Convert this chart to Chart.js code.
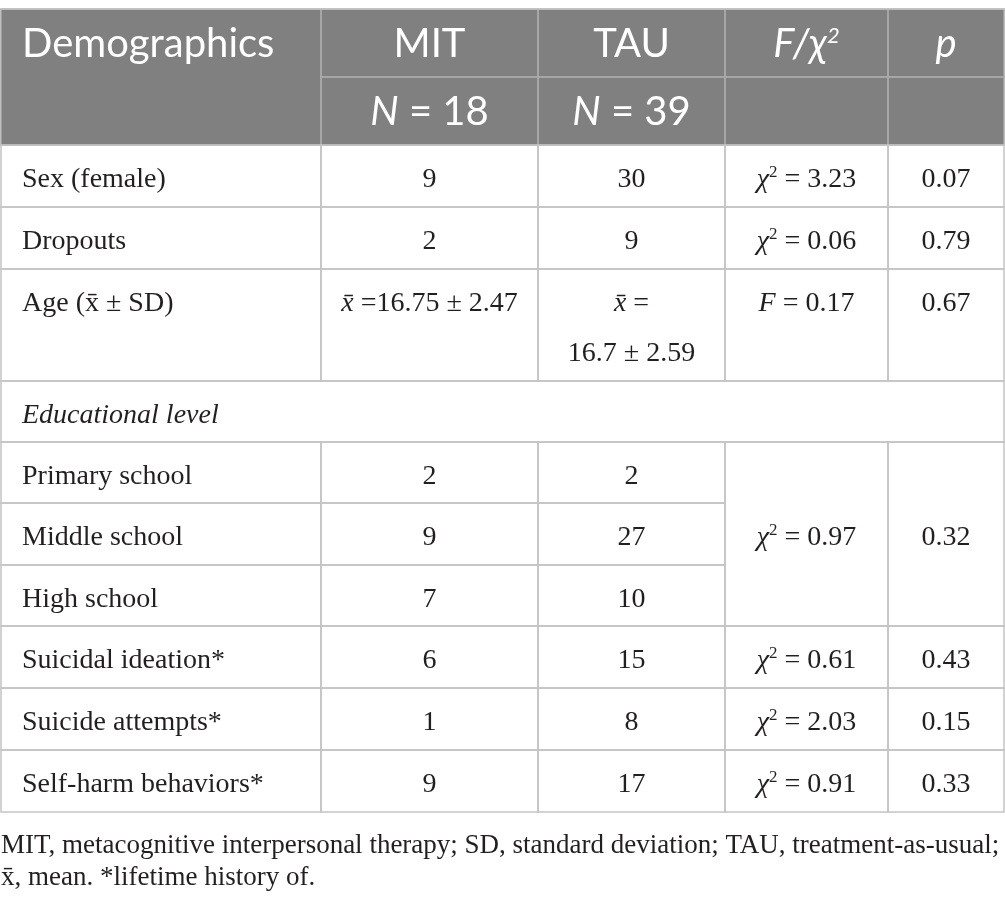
<!DOCTYPE html>
<html>
<head>
<meta charset="utf-8">
<script src="https://cdn.jsdelivr.net/npm/chart.js@4/dist/chart.umd.min.js"></script>
<style>
  html, body { margin: 0; padding: 0; background: #fff; }
  #wrap { width: 1005px; height: 908px; }
</style>
</head>
<body>
<div id="wrap"><canvas id="table" width="1005" height="908"></canvas></div>
<script>
// ---- data ----
const columns = ["Demographics", "MIT", "TAU", "F/χ2", "p"];
const groupN = [18, 39];
const rowLabels = [
  "Sex (female)", "Dropouts", "Age (x\u0304 \u00b1 SD)", "Educational level",
  "Primary school", "Middle school", "High school",
  "Suicidal ideation*", "Suicide attempts*", "Self-harm behaviors*"
];
const mitCounts = [9, 2, null, null, 2, 9, 7, 6, 1, 9];
const tauCounts = [30, 9, null, null, 2, 27, 10, 15, 8, 17];
const ageMean = [16.75, 16.7];
const ageSD = [2.47, 2.59];
const testType = ["chi", "chi", "F", null, "chi", null, null, "chi", "chi", "chi"];
const testValue = [3.23, 0.06, 0.17, null, 0.97, null, null, 0.61, 2.03, 0.91];
const pValues = [0.07, 0.79, 0.67, null, 0.32, null, null, 0.43, 0.15, 0.33];
const footnote = [
  "MIT, metacognitive interpersonal therapy; SD, standard deviation; TAU, treatment-as-usual;",
  "x\u0304, mean. *lifetime history of."
];

// ---- layout ----
const colEdges = [0, 320, 537, 724, 887, 1003];
const headHeights = [68, 68];
const bodyHeights = [62, 62, 112, 61, 61, 62, 61, 62, 62, 62];
const sectionRow = 3;      // spans every column
const mergedStart = 4;     // test + p cells span 3 rows here
const mergedSpan = 3;

const serif = '"Liberation Serif", "DejaVu Serif", serif';
const sans = 'Lato, "Open Sans", sans-serif';
const headColor = "#808080";
const headLine = "#a9a9a9";
const bodyLine = "#c4c4c4";
const ink = "#231f20";

// draw a run of differently styled pieces on one baseline
function rich(ctx, parts, x, y, align) {
  let total = 0;
  parts.forEach(p => { ctx.font = p.font; p.w = ctx.measureText(p.text).width; total += p.w; });
  let cx = align === "center" ? x - total / 2 : x;
  ctx.textAlign = "left";
  ctx.textBaseline = "alphabetic";
  parts.forEach(p => {
    ctx.font = p.font;
    ctx.fillText(p.text, cx, y + (p.dy || 0));
    cx += p.w;
  });
}

function statParts(type, v, size) {
  const reg = size + "px " + serif, it = "italic " + size + "px " + serif;
  if (type === "F") return [{ text: "F", font: it }, { text: " = " + v.toFixed(2), font: reg }];
  return [
    { text: "χ", font: it },
    { text: "2", font: Math.round(size * 0.6) + "px " + serif, dy: -size * 0.36 },
    { text: " = " + v.toFixed(2), font: reg }
  ];
}

const tablePlugin = {
  id: "tablePlugin",
  afterDraw(chart) {
    const ctx = chart.ctx;
    const xs = chart.scales.x, ys = chart.scales.y;
    const X = v => xs.getPixelForValue(v);
    const heights = headHeights.concat(bodyHeights);
    const yEdges = [0];
    heights.forEach(h => yEdges.push(yEdges[yEdges.length - 1] + h));
    const Y = v => ys.getPixelForValue(v);
    const cell = (c0, c1, r0, r1) => ({ x0: X(colEdges[c0]), x1: X(colEdges[c1]), y0: Y(yEdges[r0]), y1: Y(yEdges[r1]) });
    const colMid = c => (X(colEdges[c]) + X(colEdges[c + 1])) / 2;

    ctx.save();
    // header background
    const hb = cell(0, 5, 0, 2);
    ctx.fillStyle = headColor;
    ctx.fillRect(hb.x0, hb.y0, hb.x1 - hb.x0, hb.y1 - hb.y0);

    // cell outlines
    const boxes = [];
    boxes.push([cell(0, 1, 0, 2), headLine]);
    for (let c = 1; c < 5; c++) { boxes.push([cell(c, c + 1, 0, 1), headLine]); boxes.push([cell(c, c + 1, 1, 2), headLine]); }
    for (let r = 0; r < bodyHeights.length; r++) {
      const R = r + 2;
      if (r === sectionRow) { boxes.push([cell(0, 5, R, R + 1), bodyLine]); continue; }
      for (let c = 0; c < 3; c++) boxes.push([cell(c, c + 1, R, R + 1), bodyLine]);
      if (r > mergedStart && r < mergedStart + mergedSpan) continue;
      const span = r === mergedStart ? mergedSpan : 1;
      for (let c = 3; c < 5; c++) boxes.push([cell(c, c + 1, R, R + span), bodyLine]);
    }
    ctx.lineWidth = 1.5;
    boxes.forEach(([b, col]) => { ctx.strokeStyle = col; ctx.strokeRect(b.x0, b.y0, b.x1 - b.x0, b.y1 - b.y0); });
    // outer header edge on top
    ctx.strokeStyle = bodyLine;
    ctx.beginPath(); ctx.moveTo(hb.x0, hb.y0); ctx.lineTo(hb.x1, hb.y0); ctx.stroke();

    // header text
    const hs = 40;
    const hReg = hs + "px " + sans, hIt = "italic " + hs + "px " + sans;
    ctx.fillStyle = "#ffffff";
    const hy0 = Y(yEdges[0]) + 48, hy1 = Y(yEdges[1]) + 48;
    rich(ctx, [{ text: columns[0], font: hReg }], X(colEdges[0]) + 21, hy0, "left");
    rich(ctx, [{ text: columns[1], font: hReg }], colMid(1), hy0, "center");
    rich(ctx, [{ text: columns[2], font: hReg }], colMid(2), hy0, "center");
    rich(ctx, [
      { text: "F/χ", font: hIt },
      { text: "2", font: "italic " + Math.round(hs * 0.55) + "px " + sans, dy: -hs * 0.36 }
    ], colMid(3), hy0, "center");
    rich(ctx, [{ text: columns[4], font: hIt }], colMid(4), hy0, "center");
    groupN.forEach((n, i) => {
      rich(ctx, [{ text: "N", font: hIt }, { text: " = " + n, font: hReg }], colMid(i + 1), hy1, "center");
    });

    // body text
    const bs = 28;
    const bReg = bs + "px " + serif, bIt = "italic " + bs + "px " + serif;
    ctx.fillStyle = ink;
    rowLabels.forEach((lab, r) => {
      const R = r + 2;
      const top = Y(yEdges[R]);
      const base = top + 42;
      rich(ctx, [{ text: lab, font: r === sectionRow ? bIt : bReg }], X(colEdges[0]) + 21, base, "left");
      if (mitCounts[r] !== null) rich(ctx, [{ text: String(mitCounts[r]), font: bReg }], colMid(1), base, "center");
      if (tauCounts[r] !== null) rich(ctx, [{ text: String(tauCounts[r]), font: bReg }], colMid(2), base, "center");
      if (r === 2) {
        rich(ctx, [{ text: "x\u0304", font: bIt }, { text: " =" + ageMean[0] + " \u00b1 " + ageSD[0], font: bReg }], colMid(1), base, "center");
        rich(ctx, [{ text: "x\u0304", font: bIt }, { text: " =", font: bReg }], colMid(2), base, "center");
        rich(ctx, [{ text: ageMean[1] + " \u00b1 " + ageSD[1], font: bReg }], colMid(2), base + 50, "center");
      }
      if (testType[r]) {
        let tb = base;
        if (r === mergedStart) {
          const y0 = Y(yEdges[R]), y1 = Y(yEdges[R + mergedSpan]);
          tb = (y0 + y1) / 2 + 11;
        }
        rich(ctx, statParts(testType[r], testValue[r], bs), colMid(3), tb, "center");
        rich(ctx, [{ text: pValues[r].toFixed(2), font: bReg }], colMid(4), tb, "center");
      }
    });

    // footnote under the table
    const fb = chart.chartArea.bottom;
    const fFont = "27px " + serif;
    footnote.forEach((line, i) => {
      rich(ctx, [{ text: line, font: fFont }], 1, fb + 41 + i * 32, "left");
    });
    ctx.restore();
  }
};

new Chart(document.getElementById("table"), {
  type: "scatter",
  data: { datasets: [] },
  options: {
    responsive: false,
    animation: false,
    events: [],
    layout: { padding: { top: 9, left: 1, right: 1, bottom: 96 } },
    plugins: { legend: { display: false }, tooltip: { enabled: false } },
    scales: {
      x: { type: "linear", display: false, min: 0, max: colEdges[colEdges.length - 1] },
      y: { type: "linear", display: false, reverse: true, min: 0,
           max: headHeights.concat(bodyHeights).reduce((a, b) => a + b, 0) }
    }
  },
  plugins: [tablePlugin]
});
</script>
</body>
</html>
